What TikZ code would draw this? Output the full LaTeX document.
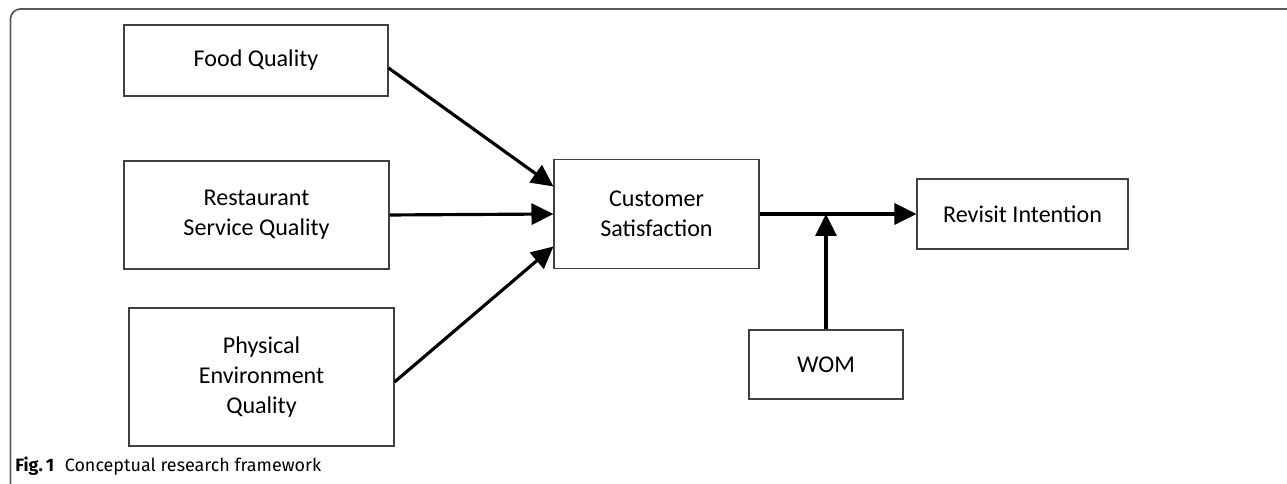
\documentclass[tikz,border=0pt]{standalone}
\usepackage{fontspec}
\setmainfont{Carlito}
\newfontfamily\legende{Fira Sans}
\usetikzlibrary{arrows.meta}
\definecolor{cadre}{HTML}{5A5A5A}
\definecolor{bord}{HTML}{404040}

\begin{document}
\begin{tikzpicture}
\tikzset{boite/.style={draw=bord, line width=0.6pt, align=center, font=\fontsize{13.7}{17}\selectfont, inner sep=0pt},
fleche/.style={line width=1.8pt, -{Triangle[length=0.44cm, width=0.42cm]}}}
\useasboundingbox (0, 0) rectangle (25.74, 9.68);
\draw[cadre, line width=1pt, rounded corners=0.2cm] (0.21, -0.5) -- (0.21, 9.5) -- (26, 9.5);
\node[boite, minimum width=5.28cm, minimum height=1.42cm] (Food) at (5.12, 8.47) {Food Quality};
\node[boite, minimum width=5.30cm, minimum height=2.16cm] (Service) at (5.13, 5.38) {Restaurant\\Service Quality};
\node[boite, minimum width=5.30cm, minimum height=2.76cm] (Phys) at (5.23, 2.14) {Physical\\Environment\\Quality};
\node[boite, minimum width=4.10cm, minimum height=2.18cm] (Satis) at (13.13, 5.40) {Customer\\Satisfaction};
\node[boite, minimum width=4.22cm, minimum height=1.40cm] (Revisit) at (20.45, 5.40) {Revisit Intention};
\node[boite, minimum width=3.08cm, minimum height=1.38cm] (WOM) at (16.52, 2.39) {WOM};
\coordinate (M) at (WOM.north |- Satis.east);
\draw[fleche] ([yshift=-0.15cm]Food.east) -- ([yshift=0.55cm]Satis.west);
\draw[fleche] (Service.east) -- (Satis.west);
\draw[fleche] ([yshift=-0.1cm]Phys.east) -- ([yshift=-0.65cm]Satis.west);
\draw[fleche] (Satis.east) -- (Revisit.west);
\draw[fleche] (WOM.north) -- (M);
\node[anchor=base west, inner sep=0pt, font=\legende\fontsize{10.2}{12}\selectfont] (Fig) at (0.30, 0.24) {\textbf{Fig.\,1}\hspace{0.6em}Conceptual research framework};
\end{tikzpicture}
\end{document}
